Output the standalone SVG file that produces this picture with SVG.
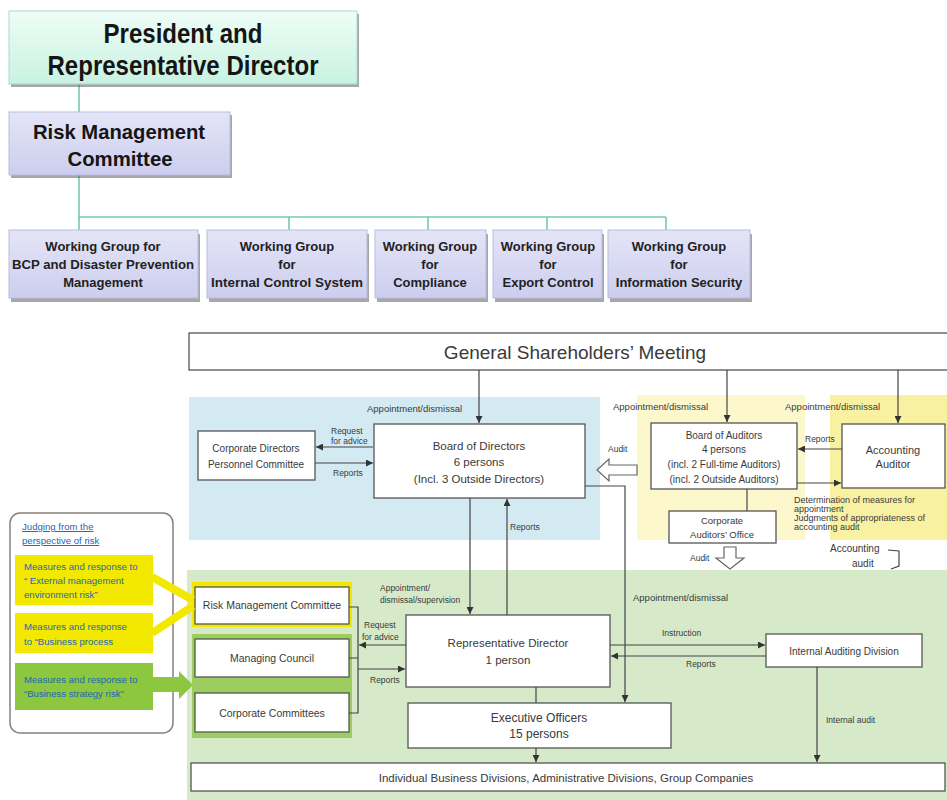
<svg xmlns="http://www.w3.org/2000/svg" width="947" height="800" viewBox="0 0 947 800">
<defs>
<linearGradient id="gPres" x1="0" y1="0" x2="0" y2="1"><stop offset="0" stop-color="#eefdf7"/><stop offset="1" stop-color="#c8f2e1"/></linearGradient>
<linearGradient id="gLav" x1="0" y1="0" x2="0" y2="1"><stop offset="0" stop-color="#e4e4f8"/><stop offset="1" stop-color="#cdceee"/></linearGradient>
<marker id="ah" viewBox="0 0 8 8" refX="8" refY="4" markerWidth="7" markerHeight="7" orient="auto" markerUnits="userSpaceOnUse"><path d="M0,0L8,4L0,8z" fill="#333"/></marker>
</defs>
<style>
.t{font-family:"Liberation Sans",Arial,sans-serif;fill:#3a3a3a}
.h{font-weight:bold;fill:#151515}
.m{text-anchor:middle}
.box{fill:#fff;stroke:#555;stroke-width:1.3}
.ln{fill:none;stroke:#444;stroke-width:1.2}
.ar{marker-end:url(#ah)}
.tl{fill:none;stroke:#72cbb2;stroke-width:1.6}
.sh{fill:#5f5f5f;opacity:.55}
.lav{fill:url(#gLav);stroke:#b9bbe0;stroke-width:1}
.wg{font-size:13px;font-weight:bold;fill:#222}
.lab{font-size:8.5px}
.bl{fill:#1c68b4;font-size:9.6px}
.hol{fill:#fff;stroke:#666;stroke-width:1.2}
</style>

<!-- background regions -->
<rect x="189" y="397" width="411" height="143" fill="#d3eaf2"/>
<rect x="637" y="395" width="168" height="145" fill="#fcf8cb"/>
<rect x="830" y="395" width="117" height="145" fill="#f9f1a2"/>
<rect x="187" y="570" width="760" height="230" fill="#d6e9c9"/>

<!-- top connectors -->
<g id="top-connectors">
<path class="tl" d="M79,84 V112"/>
<path class="tl" d="M79,175 V217 H666"/>
<path class="tl" d="M79,217 V230 M289,217 V230 M428,217 V230 M547,217 V230 M666,217 V230"/>
</g>

<g id="president">
<rect class="sh" x="11" y="14" width="348" height="73"/>
<rect x="9" y="11" width="348" height="73" fill="url(#gPres)" stroke="#a9dcc9"/>
<text class="t h m" x="183" y="43" font-size="28" textLength="159" lengthAdjust="spacingAndGlyphs">President and</text>
<text class="t h m" x="183" y="75" font-size="28" textLength="271" lengthAdjust="spacingAndGlyphs">Representative Director</text>
</g>

<g id="risk-committee-top">
<rect class="sh" x="11" y="115" width="221" height="63"/>
<rect class="lav" x="9" y="112" width="221" height="63"/>
<text class="t h m" x="119" y="139" font-size="21" textLength="172" lengthAdjust="spacingAndGlyphs">Risk Management</text>
<text class="t h m" x="120" y="166" font-size="21" textLength="105" lengthAdjust="spacingAndGlyphs">Committee</text>
</g>

<g id="wg-bcp">
<rect class="sh" x="11" y="234" width="189" height="68"/>
<rect class="lav" x="9" y="230" width="189" height="68"/>
<text class="t wg m" x="103" y="251">Working Group for</text>
<text class="t wg m" x="103" y="269" textLength="182" lengthAdjust="spacingAndGlyphs">BCP and Disaster Prevention</text>
<text class="t wg m" x="103" y="287">Management</text>
</g>
<g id="wg-internal-control">
<rect class="sh" x="209" y="234" width="160" height="68"/>
<rect class="lav" x="207" y="230" width="160" height="68"/>
<text class="t wg m" x="287" y="251">Working Group</text>
<text class="t wg m" x="287" y="269">for</text>
<text class="t wg m" x="287" y="287" textLength="152" lengthAdjust="spacingAndGlyphs">Internal Control System</text>
</g>
<g id="wg-compliance">
<rect class="sh" x="377" y="234" width="111" height="68"/>
<rect class="lav" x="375" y="230" width="111" height="68"/>
<text class="t wg m" x="430" y="251">Working Group</text>
<text class="t wg m" x="430" y="269">for</text>
<text class="t wg m" x="430" y="287">Compliance</text>
</g>
<g id="wg-export">
<rect class="sh" x="495" y="234" width="109" height="68"/>
<rect class="lav" x="493" y="230" width="109" height="68"/>
<text class="t wg m" x="548" y="251">Working Group</text>
<text class="t wg m" x="548" y="269">for</text>
<text class="t wg m" x="548" y="287">Export Control</text>
</g>
<g id="wg-infosec">
<rect class="sh" x="610" y="234" width="142" height="68"/>
<rect class="lav" x="608" y="230" width="142" height="68"/>
<text class="t wg m" x="679" y="251">Working Group</text>
<text class="t wg m" x="679" y="269">for</text>
<text class="t wg m" x="679" y="287">Information Security</text>
</g>

<!-- lower diagram nodes -->
<g id="gsm">
<rect class="box" x="189" y="333" width="770" height="37"/>
<text class="t m" x="575" y="359" font-size="19" fill="#333">General Shareholders’ Meeting</text>
</g>

<g id="board-directors">
<rect class="box" x="374" y="424" width="211" height="74"/>
<text class="t m" x="479" y="450" font-size="11.5">Board of Directors</text>
<text class="t m" x="479" y="466" font-size="11.5">6 persons</text>
<text class="t m" x="479" y="483" font-size="11.5">(Incl. 3 Outside Directors)</text>
</g>

<g id="cdpc">
<rect class="box" x="198" y="431" width="117" height="49"/>
<text class="t m" x="256" y="452" font-size="10">Corporate Directors</text>
<text class="t m" x="256" y="468" font-size="10">Personnel Committee</text>
</g>

<g id="board-auditors">
<rect class="box" x="651" y="423" width="146" height="66"/>
<text class="t m" x="724" y="439" font-size="10">Board of Auditors</text>
<text class="t m" x="724" y="453" font-size="10">4 persons</text>
<text class="t m" x="724" y="468" font-size="10">(incl. 2 Full-time Auditors)</text>
<text class="t m" x="724" y="483" font-size="10">(incl. 2 Outside Auditors)</text>
</g>

<g id="accounting-auditor">
<rect class="box" x="842" y="424" width="103" height="64"/>
<text class="t m" x="893" y="454" font-size="11">Accounting</text>
<text class="t m" x="893" y="468" font-size="11">Auditor</text>
</g>

<g id="auditors-office">
<rect class="box" x="669" y="511" width="107" height="32"/>
<text class="t m" x="722" y="524" font-size="9.5">Corporate</text>
<text class="t m" x="722" y="538" font-size="9.5">Auditors’ Office</text>
</g>

<g id="risk-perspective">
<rect x="10" y="513" width="163" height="220" rx="10" fill="#fff" stroke="#8a817a" stroke-width="1.5"/>
<text class="t bl" x="22" y="530" text-decoration="underline">Judging from the</text>
<text class="t bl" x="22" y="544" text-decoration="underline">perspective of risk</text>
<rect x="15" y="555" width="138" height="50" fill="#f2e800"/>
<text class="t bl" x="24" y="570">Measures and response to</text>
<text class="t bl" x="24" y="584">“ External management</text>
<text class="t bl" x="24" y="598">environment risk”</text>
<rect x="15" y="613" width="138" height="40" fill="#f2e800"/>
<text class="t bl" x="24" y="630">Measures and response</text>
<text class="t bl" x="24" y="645">to “Business process</text>
<rect x="15" y="663" width="138" height="47" fill="#8dc63f"/>
<text class="t bl" x="24" y="683">Measures and response to</text>
<text class="t bl" x="24" y="697">“Business strategy risk”</text>
</g>

<g id="risk-management-committee">
<rect x="192" y="582" width="160" height="45" fill="#f2e800"/>
<rect class="box" x="195" y="587" width="154" height="37"/>
<text class="t m" x="272" y="609" font-size="10.5">Risk Management Committee</text>
</g>

<rect x="192" y="634" width="160" height="104" fill="#9dcd5e"/>
<g id="managing-council">
<rect class="box" x="195" y="639" width="154" height="38"/>
<text class="t m" x="272" y="662" font-size="10.5">Managing Council</text>
</g>
<g id="corporate-committees">
<rect class="box" x="195" y="693" width="154" height="39"/>
<text class="t m" x="272" y="717" font-size="10.5">Corporate Committees</text>
</g>

<g id="representative-director">
<rect class="box" x="406" y="615" width="204" height="72"/>
<text class="t m" x="508" y="647" font-size="11.5">Representative Director</text>
<text class="t m" x="508" y="664" font-size="11.5">1 person</text>
</g>

<g id="internal-auditing">
<rect class="box" x="766" y="634" width="156" height="33"/>
<text class="t m" x="844" y="655" font-size="10">Internal Auditing Division</text>
</g>

<g id="executive-officers">
<rect class="box" x="408" y="703" width="263" height="45"/>
<text class="t m" x="539" y="722" font-size="12">Executive Officers</text>
<text class="t m" x="539" y="738" font-size="12">15 persons</text>
</g>

<g id="business-divisions">
<rect class="box" x="191" y="763" width="754" height="28"/>
<text class="t m" x="566" y="782" font-size="11.5" fill="#555">Individual Business Divisions, Administrative Divisions, Group Companies</text>
</g>

<!-- connectors -->
<g id="connectors">
<path class="ln ar" d="M479,370 V423"/>
<path class="ln ar" d="M727,370 V422"/>
<path class="ln ar" d="M898,370 V423"/>
<path class="ln ar" d="M373,447 H316"/>
<path class="ln ar" d="M315,463 H373"/>
<path class="ln ar" d="M470,498 V614"/>
<path class="ln ar" d="M507,615 V499"/>
<path class="ln ar" d="M585,486 H625 V702"/>
<polygon class="hol" points="597,470 609,459 609,465 637,465 637,475 609,475 609,481"/>
<path class="ln ar" d="M842,449 H798"/>
<path class="ln ar" d="M797,483 H841"/>
<path class="ln" d="M747,489 V511"/>
<polygon class="hol" points="724,547 736,547 736,558 744,558 730,569 716,558 724,558"/>
<path class="ln" d="M888,550 L899,551 V566 L891,569" stroke="#555"/>
<path class="ln ar" d="M610,645 H765"/>
<path class="ln ar" d="M766,656 H611"/>
<path class="ln ar" d="M817,667 V762"/>
<path class="ln" d="M536,687 V703"/>
<path class="ln ar" d="M536,748 V762"/>
<path class="ln" d="M349,607 H358 V713 H349 M349,658 H358"/>
<path class="ln ar" d="M406,645 H359"/>
<path class="ln ar" d="M358,669 H405"/>
<path d="M152,577 L193,600 M152,633 L193,606" stroke="#f2e800" stroke-width="8" fill="none"/>
<polygon points="153,677 179,677 179,671 193,685 179,699 179,692 153,692" fill="#8dc63f"/>
</g>

<!-- connector labels -->
<g id="labels">
<text class="t" x="367" y="412" font-size="9.5">Appointment/dismissal</text>
<text class="t lab" x="331" y="434">Request</text>
<text class="t lab" x="331" y="444">for advice</text>
<text class="t lab" x="333" y="476">Reports</text>
<text class="t lab" x="510" y="530">Reports</text>
<text class="t lab" x="608" y="452">Audit</text>
<text class="t" x="613" y="410" font-size="9.5">Appointment/dismissal</text>
<text class="t" x="785" y="410" font-size="9.5">Appointment/dismissal</text>
<text class="t lab" x="805" y="442">Reports</text>
<text class="t" x="794" y="503" font-size="9">Determination of measures for</text>
<text class="t" x="794" y="512" font-size="9">appointment</text>
<text class="t" x="794" y="521" font-size="9">Judgments of appropriateness of</text>
<text class="t" x="794" y="530" font-size="9">accounting audit</text>
<text class="t lab" x="690" y="561">Audit</text>
<text class="t" x="830" y="552" font-size="10">Accounting</text>
<text class="t" x="852" y="567" font-size="10">audit</text>
<text class="t" x="633" y="601" font-size="9.5">Appointment/dismissal</text>
<text class="t lab" x="380" y="591">Appointment/</text>
<text class="t lab" x="380" y="603">dismissal/supervision</text>
<text class="t lab" x="364" y="628">Request</text>
<text class="t lab" x="362" y="640">for advice</text>
<text class="t lab" x="370" y="683">Reports</text>
<text class="t lab" x="662" y="636">Instruction</text>
<text class="t lab" x="686" y="667">Reports</text>
<text class="t lab" x="826" y="723">Internal audit</text>
</g>
</svg>
